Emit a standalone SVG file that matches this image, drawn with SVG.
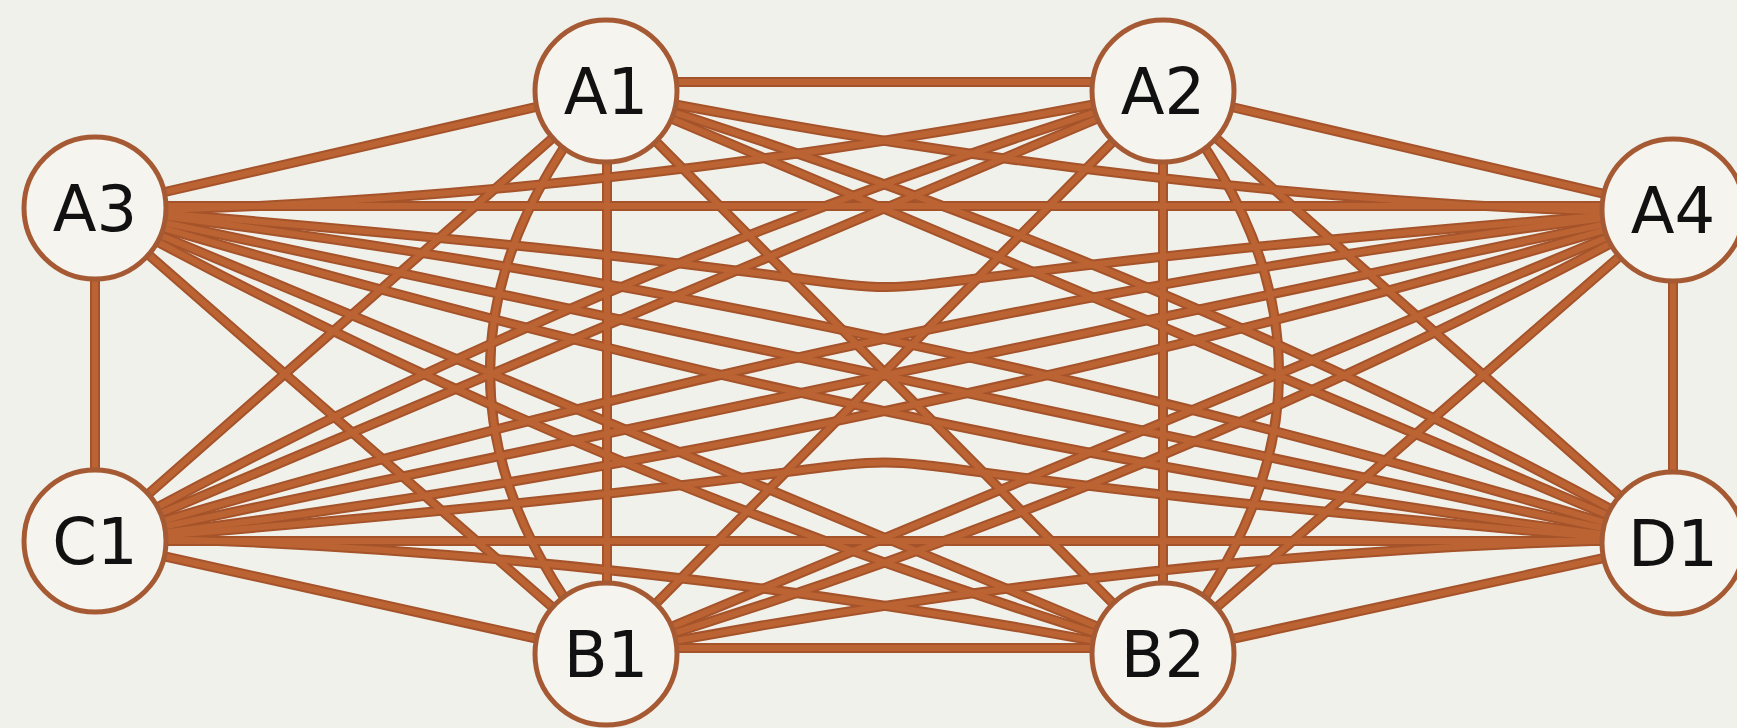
<svg xmlns="http://www.w3.org/2000/svg" width="1737" height="728" viewBox="0 0 1737 728">
  <style>
    .bg { fill: #f1f1ec; }
    .edge { fill: none; stroke: #a5532a; stroke-width: 10; stroke-linecap: round; }
    .edge-core { fill: none; stroke: #bb6333; stroke-width: 6; stroke-linecap: round; }
    .node circle { fill: #f5f4ef; stroke: #a65a33; stroke-width: 5; }
    .node text { font-family: "DejaVu Sans", "Liberation Sans", sans-serif; font-size: 64px; fill: #111111; text-anchor: middle; }
  </style>
  <defs>
    <g id="edge-paths">
      <!-- straight connectors -->
      <path d="M606,82 L1163,82"/>
      <path d="M606,648 L1163,648"/>
      <path d="M95,206 L1673,206"/>
      <path d="M95,541 L1673,541"/>
      <path d="M95,208 L95,541"/>
      <path d="M1673,210 L1673,543"/>
      <path d="M607,91 L607,654"/>
      <path d="M1163,91 L1163,654"/>
      <path d="M95,208 L606,91"/>
      <path d="M1163,91 L1673,210"/>
      <path d="M95,541 L606,654"/>
      <path d="M1163,654 L1673,543"/>
      <path d="M606,91 L1163,654"/>
      <path d="M1163,91 L606,654"/>
      <path d="M95,208 L1673,543"/>
      <path d="M95,541 L1673,210"/>
      <path d="M95,208 L606,654"/>
      <path d="M95,541 L606,91"/>
      <path d="M1163,91 L1673,543"/>
      <path d="M1673,210 L1163,654"/>
      <path d="M95,208 L1163,654"/>
      <path d="M95,541 L1163,91"/>
      <path d="M606,91 L1673,543"/>
      <path d="M606,654 L1673,210"/>
      <!-- connectors bent to pass beside a node -->
      <path d="M606,91 Q1150,200 1673,214"/>
      <path d="M1163,91 Q619,200 95,212"/>
      <path d="M606,654 Q1150,548 1673,539"/>
      <path d="M1163,654 Q619,548 95,537"/>
      <!-- bowed connectors -->
      <path d="M606,91 Q374,372 606,654"/>
      <path d="M1163,91 Q1395,372 1163,654"/>
      <path d="M95,208 C1395,312 373,314 1673,210"/>
      <path d="M95,541 C1395,437 373,435 1673,543"/>
      <path d="M95,208 Q597,484 1163,654"/>
      <path d="M1673,210 Q1172,484 606,654"/>
      <path d="M95,541 Q597,265 1163,91"/>
      <path d="M1673,543 Q1172,265 606,91"/>
      <path d="M95,208 Q904,451 1673,543"/>
      <path d="M95,208 Q865,298 1673,543"/>
      <path d="M95,541 Q904,298 1673,210"/>
      <path d="M95,541 Q865,451 1673,210"/>
    </g>
  </defs>
  <rect class="bg" x="0" y="0" width="1737" height="728"/>
  <g id="connectors">
    <use href="#edge-paths" class="edge"/>
    <use href="#edge-paths" class="edge-core"/>
  </g>
  <g id="node-A1" class="node"><circle cx="606" cy="91" r="71"/><text x="606" y="114">A1</text></g>
  <g id="node-A2" class="node"><circle cx="1163" cy="91" r="71"/><text x="1163" y="114">A2</text></g>
  <g id="node-A3" class="node"><circle cx="95" cy="208" r="71"/><text x="95" y="231">A3</text></g>
  <g id="node-A4" class="node"><circle cx="1673" cy="210" r="71"/><text x="1673" y="233">A4</text></g>
  <g id="node-C1" class="node"><circle cx="95" cy="541" r="71"/><text x="95" y="564">C1</text></g>
  <g id="node-D1" class="node"><circle cx="1673" cy="543" r="71"/><text x="1673" y="566">D1</text></g>
  <g id="node-B1" class="node"><circle cx="606" cy="654" r="71"/><text x="606" y="677">B1</text></g>
  <g id="node-B2" class="node"><circle cx="1163" cy="654" r="71"/><text x="1163" y="677">B2</text></g>
</svg>
